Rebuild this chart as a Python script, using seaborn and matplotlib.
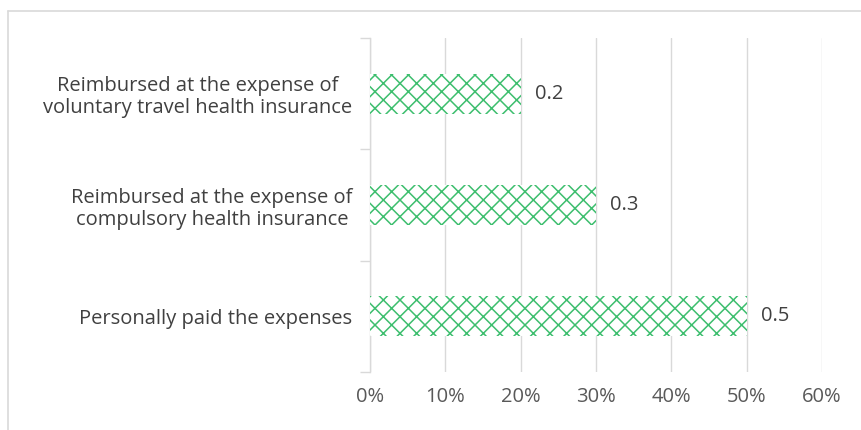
import matplotlib
matplotlib.use("Agg")
import matplotlib.pyplot as plt
from matplotlib.lines import Line2D
from matplotlib.ticker import PercentFormatter, FixedLocator
import seaborn as sns
import pandas as pd

categories = [
    "Reimbursed at the expense of\nvoluntary travel health insurance",
    "Reimbursed at the expense of\ncompulsory health insurance",
    "Personally paid the expenses",
]
shares = [0.2, 0.3, 0.5]
value_labels = ["0.2", "0.3", "0.5"]
x_ticks = [0.0, 0.1, 0.2, 0.3, 0.4, 0.5, 0.6]

sns.set_theme(style="white")
plt.rcParams["font.family"] = ["Open Sans", "DejaVu Sans"]
plt.rcParams["hatch.linewidth"] = 1.1

green = "#3DBE6E"
grid_gray = "#D9D9D9"
text_gray = "#595959"
FS = 14.5

df = pd.DataFrame({"category": categories, "share": shares})

fig = plt.figure(figsize=(8.62, 4.30), dpi=100)
ax = fig.add_axes([0.4292, 0.1349, 0.5244, 0.7767])

sns.barplot(data=df, x="share", y="category", orient="h", order=categories,
            color="white", width=0.36, ax=ax, zorder=3)
for patch in ax.patches:
    patch.set_facecolor("white")
    patch.set_edgecolor(green)
    patch.set_linewidth(0)
    patch.set_hatch("xx")

ax.set_xlim(0, 0.6)
ax.set_ylim(len(categories) - 0.5, -0.5)
ax.xaxis.set_major_locator(FixedLocator(x_ticks))
ax.xaxis.set_major_formatter(PercentFormatter(1.0, decimals=0))
ax.grid(axis="x", color=grid_gray, linewidth=1.0, zorder=0)
ax.set_axisbelow(True)

for side in ("top", "right", "bottom"):
    ax.spines[side].set_visible(False)
ax.spines["left"].set_color(grid_gray)
ax.spines["left"].set_linewidth(1.0)

ax.set_xlabel("")
ax.set_ylabel("")
ax.tick_params(axis="x", length=0, pad=11, labelsize=FS, labelcolor=text_gray)
ax.tick_params(axis="y", which="major", length=0, pad=12.5, labelsize=FS,
               labelcolor="#404040")
ax.yaxis.set_minor_locator(FixedLocator([-0.5, 0.5, 1.5, 2.5]))
ax.tick_params(axis="y", which="minor", left=True, length=7, width=1.0,
               color=grid_gray)
for lbl in ax.get_yticklabels():
    lbl.set_multialignment("center")
    lbl.set_linespacing(1.15)

ax.bar_label(ax.containers[0], labels=value_labels, padding=10,
             fontsize=FS, color="#404040")

# light frame around the chart area
fig.add_artist(Line2D([8 / 862, 1.0], [1 - 11 / 430, 1 - 11 / 430],
                      transform=fig.transFigure, color=grid_gray, linewidth=1.2))
fig.add_artist(Line2D([8 / 862, 8 / 862], [0.0, 1 - 11 / 430],
                      transform=fig.transFigure, color=grid_gray, linewidth=1.2))

fig.savefig("out.png", dpi=100)
